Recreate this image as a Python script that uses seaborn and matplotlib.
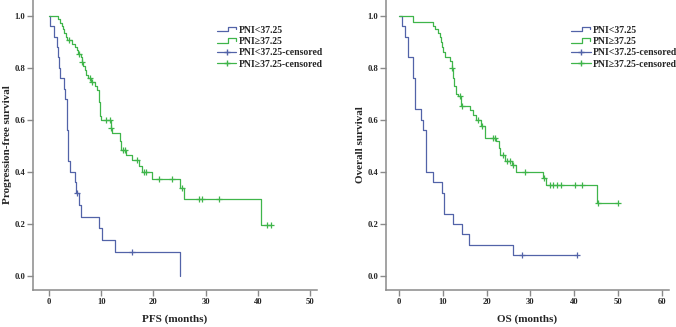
import numpy as np
import seaborn as sns
import matplotlib.pyplot as plt
from matplotlib.lines import Line2D
from matplotlib.legend_handler import HandlerBase

# PFS, PNI<37.25 : event times (months) and survival after each event
pfs_low_t = [0.2, 1.0, 1.5, 1.7, 1.9, 2.1, 2.9, 3.0, 3.4, 3.45, 3.5, 3.6, 3.65, 3.7, 4.0,
             5.0, 5.2, 5.8, 6.1, 9.6, 10.2, 12.7, 25.0]
pfs_low_s = [0.96, 0.92, 0.88, 0.84, 0.80, 0.76, 0.72, 0.68, 0.64, 0.60, 0.56, 0.52, 0.48, 0.44, 0.40,
             0.36, 0.32, 0.274, 0.228, 0.183, 0.137, 0.091, 0.0]
pfs_low_cens = [5.4, 15.8]

# PFS, PNI>=37.25
pfs_high_t = [1.7, 2.2, 2.4, 2.6, 2.8, 3.3, 3.5, 4.5, 4.9, 5.3, 5.6, 6.1, 6.3, 6.6, 6.9, 7.1, 7.4,
              8.1, 8.8, 9.2, 9.5, 9.6, 9.7, 9.8, 9.9, 11.8, 12.1, 13.6, 13.8, 14.7, 15.8, 17.3,
              17.8, 19.7, 25.0, 25.9, 40.6]
pfs_high_s = [0.987, 0.973, 0.96, 0.947, 0.933, 0.92, 0.907, 0.893, 0.88, 0.867, 0.853, 0.84,
              0.823, 0.806, 0.79, 0.773, 0.76, 0.746, 0.731, 0.716, 0.70, 0.67, 0.64, 0.615, 0.60,
              0.567, 0.55, 0.52, 0.484, 0.465, 0.446, 0.423, 0.40, 0.371, 0.337, 0.295, 0.197]
pfs_high_cens = [3.9, 5.8, 6.4, 7.9, 8.3, 11.0, 11.6, 11.9, 14.1, 14.5, 16.8, 18.1, 18.6,
                 21.0, 23.5, 25.5, 28.7, 29.3, 32.6, 41.7, 42.4]

# OS, PNI<37.25
os_low_t = [0.6, 1.3, 2.0, 3.1, 3.7, 5.0, 5.5, 6.1, 7.6, 9.8, 10.3, 12.4, 14.4, 16.0, 26.0]
os_low_s = [0.96, 0.92, 0.84, 0.76, 0.64, 0.60, 0.56, 0.40, 0.36, 0.32, 0.24, 0.20, 0.16, 0.12, 0.08]
os_low_cens = [28.1, 40.6]

# OS, PNI>=37.25
os_high_t = [3.1, 7.6, 8.2, 8.9, 9.3, 9.6, 9.8, 10.0, 10.5, 11.6, 11.95, 12.4, 12.6, 13.0, 13.5,
             14.2, 16.2, 16.9, 17.5, 18.7, 19.5, 22.1, 22.7, 23.0, 24.2, 25.7, 26.7, 32.8, 33.6, 45.2]
os_high_s = [0.974, 0.96, 0.947, 0.933, 0.92, 0.90, 0.88, 0.86, 0.84, 0.827, 0.80, 0.76, 0.73,
             0.70, 0.69, 0.653, 0.638, 0.62, 0.60, 0.577, 0.53, 0.518, 0.49, 0.465, 0.44, 0.426,
             0.398, 0.375, 0.35, 0.279]
os_high_cens = [12.1, 14.0, 14.3, 18.1, 18.9, 21.5, 21.9, 23.7, 24.6, 25.3, 26.1, 28.8, 33.1,
                34.4, 35.2, 36.1, 37.1, 40.2, 41.7, 45.4, 50.1]

labels = ['PNI<37.25', 'PNI\u226537.25', 'PNI<37.25-censored', 'PNI\u226537.25-censored']
blue = '#5263a8'
green = '#3fb54a'
grey = '#8a8a8a'

sns.set_style('ticks')
plt.rcParams['font.family'] = ['Liberation Serif', 'DejaVu Serif']
plt.rcParams['font.weight'] = 'bold'


def step_path(t, s, cens):
    # start at 1.0, run to the last censored time if it comes after the last event
    xs = np.concatenate([[0.0], t])
    ys = np.concatenate([[1.0], s])
    if len(cens) and max(cens) > xs[-1]:
        xs = np.append(xs, max(cens))
        ys = np.append(ys, ys[-1])
    return xs, ys


def surv_at(t, s, times):
    xs = np.concatenate([[0.0], t])
    ys = np.concatenate([[1.0], s])
    idx = np.searchsorted(xs, times, side='right') - 1
    return ys[idx]


class StepHandler(HandlerBase):
    def create_artists(self, legend, orig_handle, xdescent, ydescent, width, height, fontsize, trans):
        x0 = -xdescent
        y0 = -ydescent
        xs = [x0, x0 + width * 0.55, x0 + width * 0.55, x0 + width * 0.95, x0 + width * 0.95]
        ys = [y0 + height * 0.15, y0 + height * 0.15, y0 + height * 0.85, y0 + height * 0.85, y0 + height * 0.45]
        ln = Line2D(xs, ys, color=orig_handle.get_color(), lw=0.9)
        ln.set_transform(trans)
        return [ln]


def km_panel(ax, groups, xlim, xticks, xlabel, ylabel, leg_x):
    for t, s, cens, col in groups:
        xs, ys = step_path(t, s, cens)
        sns.lineplot(x=xs, y=ys, drawstyle='steps-post', color=col, lw=0.9,
                     estimator=None, sort=False, ax=ax)
        sns.scatterplot(x=cens, y=surv_at(t, s, cens), marker='+', s=16, color=col,
                        linewidth=0.9, ax=ax, zorder=3)
    ax.set_xlim(*xlim)
    ax.set_ylim(-0.0538, 1.0603)
    ax.set_xticks(xticks)
    ax.set_yticks([0.0, 0.2, 0.4, 0.6, 0.8, 1.0])
    ax.set_yticklabels(['0.0', '0.2', '0.4', '0.6', '0.8', '1.0'])
    ax.tick_params(axis='both', length=4, width=1, color=grey, labelsize=6.2, pad=1.5)
    for sp in ['left', 'bottom']:
        ax.spines[sp].set_color(grey)
        ax.spines[sp].set_linewidth(1.1)
    sns.despine(ax=ax)
    ax.set_xlabel(xlabel, fontsize=8, fontweight='bold', labelpad=6)
    ax.set_ylabel(ylabel, fontsize=8, fontweight='bold', labelpad=2)
    handles = [Line2D([], [], color=blue), Line2D([], [], color=green),
               Line2D([], [], color=blue, lw=0.9, marker='+', markersize=5),
               Line2D([], [], color=green, lw=0.9, marker='+', markersize=5)]
    leg = ax.legend(handles, labels, loc='upper left', bbox_to_anchor=(leg_x, 0.912),
                    frameon=False, fontsize=7, handlelength=2.0, handletextpad=0.2,
                    labelspacing=0.25, borderpad=0, borderaxespad=0,
                    handler_map={handles[0]: StepHandler(), handles[1]: StepHandler()})
    for txt in leg.get_texts():
        txt.set_fontweight('bold')


fig = plt.figure(figsize=(6.76, 3.27), dpi=100)
ax1 = fig.add_axes([33 / 676, 37 / 327, 284 / 676, 290 / 327])
ax2 = fig.add_axes([386 / 676, 37 / 327, 283 / 676, 290 / 327])

km_panel(ax1, [(pfs_low_t, pfs_low_s, pfs_low_cens, blue),
               (pfs_high_t, pfs_high_s, pfs_high_cens, green)],
         (-3.06, 51.3), [0, 10, 20, 30, 40, 50], 'PFS (months)', 'Progression-free survival', 0.648)
km_panel(ax2, [(os_low_t, os_low_s, os_low_cens, blue),
               (os_high_t, os_high_s, os_high_cens, green)],
         (-3.04, 61.7), [0, 10, 20, 30, 40, 50, 60], 'OS (months)', 'Overall survival', 0.654)

fig.savefig('out.png', dpi=100)
